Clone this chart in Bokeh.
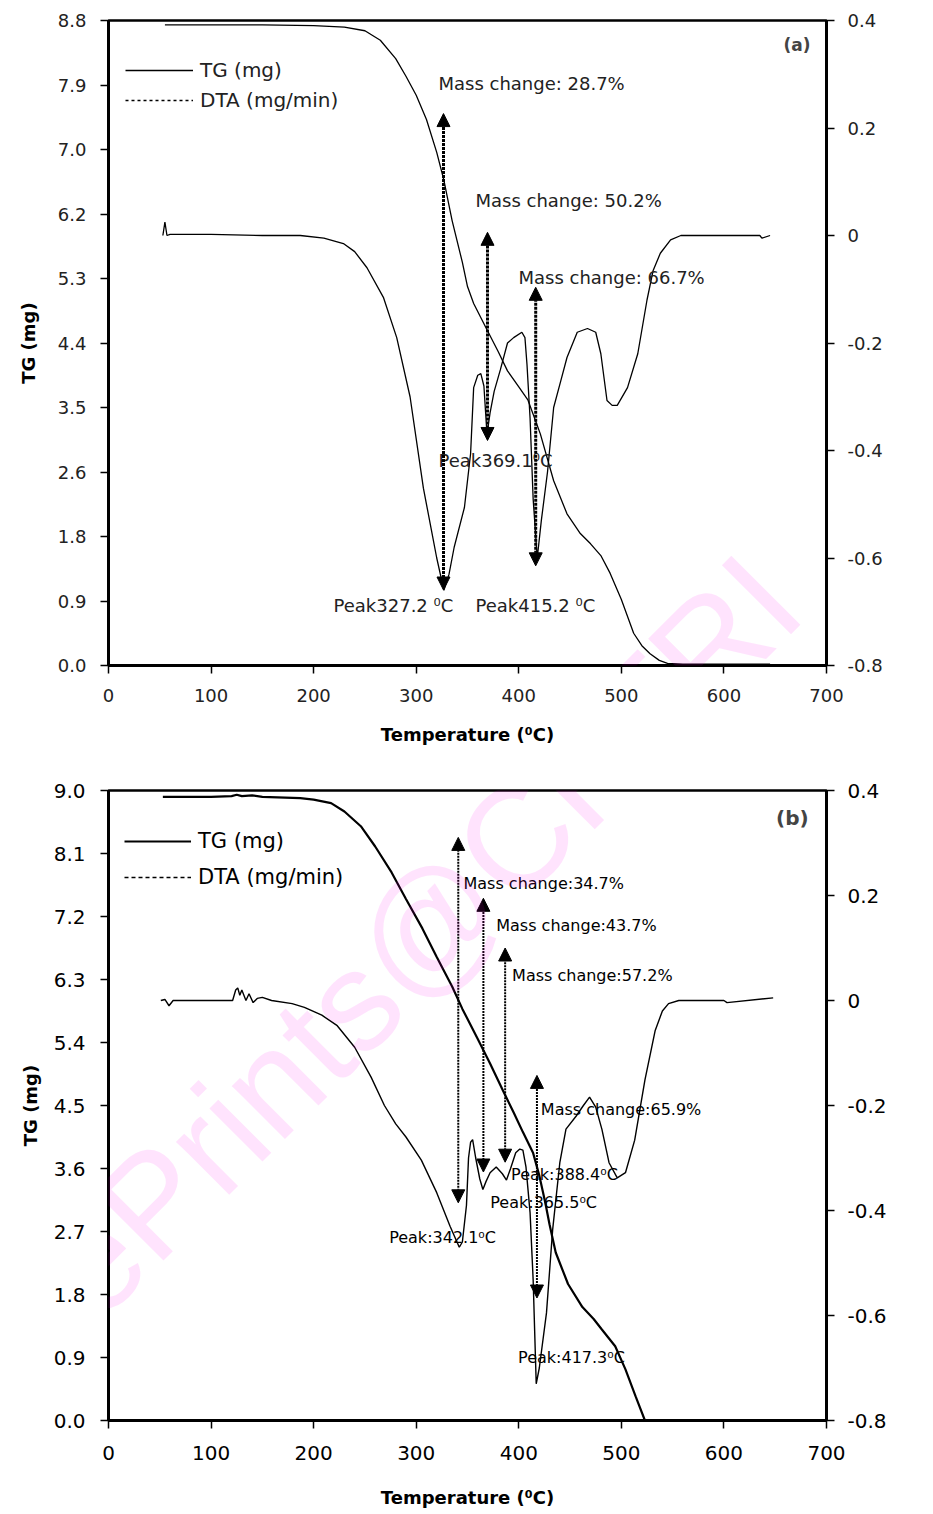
from bokeh.plotting import figure
from bokeh.models import (Range1d, LinearAxis, FixedTicker, ColumnDataSource, Arrow,
                          NormalHead, Label, Legend, LegendItem)
from bokeh.layouts import column
from bokeh.embed import file_html
from bokeh.resources import INLINE
from bokeh.core.properties import value

FONT = "DejaVu Sans"

# ---------------- shared axes ----------------
TEMP_TICKS = [0, 100, 200, 300, 400, 500, 600, 700]
DTG_TICKS = [-0.8, -0.6, -0.4, -0.2, 0.0, 0.2, 0.4]
DTG_TICK_LABELS = ["-0.8", "-0.6", "-0.4", "-0.2", "0", "0.2", "0.4"]

# ---------------- panel (a) ----------------
TG_TICKS_A = [0.0, 0.88, 1.76, 2.64, 3.52, 4.4, 5.28, 6.16, 7.04, 7.92, 8.8]
TG_TICK_LABELS_A = ["0.0", "0.9", "1.8", "2.6", "3.5", "4.4", "5.3", "6.2", "7.0", "7.9", "8.8"]

TG_A_T = [55, 100, 150, 200, 230, 250, 265, 280, 290, 300, 310, 320, 327, 335, 345,
          350, 356, 369, 380, 389, 400, 409, 421, 434, 447, 460, 470, 480, 489, 500,
          512, 520, 528, 537, 545, 560, 600, 645]
TG_A = [8.74, 8.74, 8.74, 8.73, 8.71, 8.66, 8.53, 8.28, 8.04, 7.78, 7.45, 7.0, 6.62, 6.07, 5.5,
        5.17, 4.94, 4.58, 4.28, 4.02, 3.80, 3.62, 3.16, 2.52, 2.07, 1.80, 1.66, 1.50, 1.26, 0.90,
        0.44, 0.27, 0.16, 0.07, 0.03, 0.02, 0.02, 0.02]

DTG_A_T = [53, 55, 57, 60, 100, 150, 187, 210, 229, 240, 252, 268, 281, 294, 307, 315, 320,
           327, 332, 337, 347, 353, 356, 360, 363, 366, 369, 372, 376, 382, 389, 395, 403,
           406, 408, 411, 414, 418, 422, 428, 434, 441, 447, 457, 467, 475, 480, 486, 491,
           496, 506, 516, 525, 531, 538, 548, 558, 600, 635, 637, 645]
DTG_A = [0.0, 0.025, 0.0, 0.002, 0.002, 0.0, 0.0, -0.005, -0.015, -0.03, -0.06, -0.115,
         -0.19, -0.30, -0.47, -0.55, -0.60, -0.66, -0.63, -0.58, -0.506, -0.406, -0.283,
         -0.26, -0.257, -0.28, -0.37, -0.33, -0.29, -0.25, -0.20, -0.19, -0.18, -0.19,
         -0.24, -0.34, -0.49, -0.60, -0.53, -0.44, -0.32, -0.27, -0.227, -0.18, -0.173,
         -0.18, -0.22, -0.307, -0.316, -0.316, -0.283, -0.22, -0.12, -0.065, -0.033,
         -0.008, 0.0, 0.0, 0.0, -0.005, 0.0]

ARROW_A_X = [326.6, 369.5, 416.5]
ARROW_A_BOTTOM = [1.03, 3.07, 1.36]
ARROW_A_TOP = [7.53, 5.91, 5.16]

TEXT_A = ["Mass change: 28.7%", "Mass change: 50.2%", "Mass change: 66.7%",
          "Peak327.2 \u2070C", "Peak415.2 \u2070C", "Peak369.1\u2070C"]
TEXT_A_X = [321.7, 357.8, 399.7, 219.4, 357.8, 321.7]
TEXT_A_Y = [7.94, 6.34, 5.29, 0.82, 0.82, 2.80]

# ---------------- panel (b) ----------------
TG_TICKS_B = [0.0, 0.9, 1.8, 2.7, 3.6, 4.5, 5.4, 6.3, 7.2, 8.1, 9.0]
TG_TICK_LABELS_B = ["0.0", "0.9", "1.8", "2.7", "3.6", "4.5", "5.4", "6.3", "7.2", "8.1", "9.0"]

TG_B_T = [53, 100, 120, 125, 130, 140, 150, 187, 200, 217, 230, 246, 260, 276, 290, 306,
          320, 335, 345, 360, 372, 385, 395, 404, 414, 420, 426, 430, 436, 448, 462, 473,
          481, 494, 504, 514, 523]
TG_B = [8.91, 8.91, 8.92, 8.94, 8.92, 8.93, 8.91, 8.89, 8.87, 8.82, 8.70, 8.49, 8.20, 7.83,
        7.45, 7.03, 6.62, 6.20, 5.88, 5.45, 5.10, 4.70, 4.40, 4.12, 3.82, 3.50, 3.10, 2.80,
        2.40, 1.95, 1.62, 1.45, 1.30, 1.06, 0.73, 0.34, 0.0]

DTG_B_T = [51, 55, 59, 63, 69, 100, 121, 124, 126, 128, 130, 134, 137, 141, 145, 150, 159,
           179, 191, 208, 223, 240, 256, 269, 280, 290, 305, 320, 333, 342, 345, 349, 351,
           353, 355, 358, 362, 365, 368, 372, 378, 384, 388, 392, 397, 401, 404, 407, 411,
           414, 417, 420, 427, 433, 440, 446, 456, 463, 469, 475, 481, 488, 496, 504, 513,
           523, 533, 540, 546, 556, 600, 603, 648]
DTG_B = [0.0, 0.002, -0.01, 0.0, 0.0, 0.0, 0.0, 0.02, 0.024, 0.01, 0.02, 0.0, 0.013, -0.004,
         0.004, 0.006, 0.0, -0.006, -0.013, -0.028, -0.048, -0.089, -0.146, -0.2, -0.235,
         -0.26, -0.304, -0.366, -0.43, -0.47, -0.46, -0.39, -0.30, -0.27, -0.265, -0.30,
         -0.34, -0.36, -0.345, -0.328, -0.317, -0.33, -0.342, -0.32, -0.29, -0.283, -0.285,
         -0.317, -0.404, -0.532, -0.73, -0.70, -0.595, -0.437, -0.309, -0.245, -0.22, -0.20,
         -0.184, -0.203, -0.245, -0.309, -0.338, -0.328, -0.266, -0.151, -0.057, -0.02,
         -0.006, 0.0, 0.0, -0.004, 0.005]

ARROW_B_X = [341.0, 365.5, 386.7, 417.7]
ARROW_B_BOTTOM = [3.11, 3.55, 3.69, 1.75]
ARROW_B_TOP = [8.33, 7.46, 6.75, 4.93]

TEXT_B = ["Mass change:34.7%", "Mass change:43.7%", "Mass change:57.2%", "Mass change:65.9%",
          "Peak:342.1\u2070C", "Peak:365.5\u2070C", "Peak:388.4\u2070C", "Peak:417.3\u2070C"]
TEXT_B_X = [346.1, 378.0, 393.5, 421.5, 273.6, 372.2, 392.5, 399.3]
TEXT_B_Y = [7.67, 7.07, 6.36, 4.44, 2.61, 3.11, 3.51, 0.90]

WATERMARK = "ePrints@CFTRI"
NAN = float("nan")


def make_panel(height, border_left, border_top, border_bottom, ymax, tg_ticks, tg_labels,
               tick_px, std_tick, std_label_y, std_tick_x, std_label_x, tick_color):
    p = figure(width=925, height=height, x_range=Range1d(0, 700), y_range=Range1d(0, ymax),
               output_backend="svg", toolbar_location=None,
               min_border_left=border_left, min_border_right=99,
               min_border_top=border_top, min_border_bottom=border_bottom,
               background_fill_color="white", border_fill_color="white")
    p.grid.visible = False
    p.outline_line_color = "black"
    p.outline_line_width = 2.5
    p.extra_y_ranges = {"dtg": Range1d(-0.8, 0.4)}
    right = LinearAxis(y_range_name="dtg")
    p.add_layout(right, "right")

    p.xaxis.ticker = FixedTicker(ticks=TEMP_TICKS)
    p.xaxis.axis_label = "Temperature (\u2070C)"
    p.xaxis.major_label_standoff = std_tick_x
    p.xaxis.axis_label_standoff = std_label_x

    left = p.left[0]
    left.ticker = FixedTicker(ticks=tg_ticks)
    left.major_label_overrides = {t: l for t, l in zip(tg_ticks, tg_labels)}
    left.axis_label = "TG (mg)"
    left.major_label_standoff = std_tick
    left.axis_label_standoff = std_label_y

    right.ticker = FixedTicker(ticks=DTG_TICKS)
    right.major_label_overrides = {t: l for t, l in zip(DTG_TICKS, DTG_TICK_LABELS)}
    right.major_label_standoff = 13

    for ax in [p.xaxis[0], left, right]:
        ax.axis_line_width = 3
        ax.axis_line_color = "black"
        ax.major_tick_in = 0
        ax.major_tick_out = 8
        ax.major_tick_line_width = 1.5
        ax.minor_tick_line_color = None
        ax.major_label_text_font = FONT
        ax.major_label_text_font_size = tick_px
        ax.major_label_text_color = tick_color
        ax.axis_label_text_font = FONT
        ax.axis_label_text_font_style = "bold"
        ax.axis_label_text_font_size = "18px"
        ax.axis_label_text_color = "black"
    return p


def watermark(sx, sy):
    # offsets in screen pixels from the bottom-left corner of the frame
    return Label(x=sx, y=sy, x_units="screen", y_units="screen", text=WATERMARK,
                 angle=45, angle_units="deg",
                 text_font="Liberation Sans", text_font_size="142px",
                 text_color="#ff00f0", text_alpha=0.11,
                 text_align="left", text_baseline="alphabetic", level="overlay")


# ====================== panel (a) ======================
pa = make_panel(778, 108, 20, 113, 8.8, TG_TICKS_A, TG_TICK_LABELS_A, "18px",
                14, 16, 15, 19, "#222222")

r_tg_a = pa.line(TG_A_T, TG_A, line_color="black", line_width=1.3)
pa.line(DTG_A_T, DTG_A, line_color="black", line_width=1.3, y_range_name="dtg")
r_dash_a = pa.line(x=[NAN], y=[NAN], line_color="black", line_width=1.3, line_dash="3 3")

src_arrow_a = ColumnDataSource(dict(x=ARROW_A_X, y0=ARROW_A_BOTTOM, y1=ARROW_A_TOP))
pa.add_layout(Arrow(x_start="x", y_start="y0", x_end="x", y_end="y1", source=src_arrow_a,
                    start=NormalHead(size=13, fill_color="black", line_color="black"),
                    end=NormalHead(size=13, fill_color="black", line_color="black"),
                    line_width=3, line_dash="3 1", line_color="black"))

pa.text(x=TEXT_A_X, y=TEXT_A_Y, text=TEXT_A, text_font=value(FONT),
        text_font_size=value("18px"), text_color="#222222",
        text_align="left", text_baseline="middle")
pa.add_layout(Label(x=684.4, y=8.46, text="(a)", text_font=FONT, text_font_style="bold",
                    text_font_size="17px", text_align="right", text_baseline="middle"))
pa.add_layout(Label(x=777, y=4.9, text="DTG (mg/min)", angle=90, angle_units="deg",
                    text_font=FONT, text_font_style="bold", text_font_size="18px",
                    text_align="center", text_baseline="middle"))

leg_a = Legend(items=[LegendItem(label="TG (mg)", renderers=[r_tg_a]),
                      LegendItem(label="DTA (mg/min)", renderers=[r_dash_a])],
               location=(17, 550), glyph_width=68, glyph_height=30, label_height=30,
               label_standoff=7, spacing=0, padding=0, margin=0,
               border_line_alpha=0, background_fill_alpha=0,
               label_text_font=FONT, label_text_font_size="20px",
               label_text_color="#222222")
pa.add_layout(leg_a)
pa.add_layout(watermark(-44, -625))

# ====================== panel (b) ======================
pb = make_panel(736, 102, 12, 94, 9.0, TG_TICKS_B, TG_TICK_LABELS_B, "20px",
                15, 10, 17, 24, "black")

r_tg_b = pb.line(TG_B_T, TG_B, line_color="black", line_width=2.2)
pb.line(DTG_B_T, DTG_B, line_color="black", line_width=1.4, y_range_name="dtg")
r_dash_b = pb.line(x=[NAN], y=[NAN], line_color="black", line_width=1.4, line_dash="4 3")

src_arrow_b = ColumnDataSource(dict(x=ARROW_B_X, y0=ARROW_B_BOTTOM, y1=ARROW_B_TOP))
pb.add_layout(Arrow(x_start="x", y_start="y0", x_end="x", y_end="y1", source=src_arrow_b,
                    start=NormalHead(size=13, fill_color="black", line_color="black"),
                    end=NormalHead(size=13, fill_color="black", line_color="black"),
                    line_width=2, line_dash="2 1", line_color="black"))

pb.text(x=TEXT_B_X, y=TEXT_B_Y, text=TEXT_B, text_font=value(FONT),
        text_font_size=value("16px"), text_color="black",
        text_align="left", text_baseline="middle")
pb.add_layout(Label(x=682.6, y=8.61, text="(b)", text_font=FONT, text_font_style="bold",
                    text_font_size="20px", text_align="right", text_baseline="middle"))
pb.add_layout(Label(x=776.4, y=5.0, text="DTG (mg/min)", angle=90, angle_units="deg",
                    text_font=FONT, text_font_style="bold", text_font_size="18px",
                    text_align="center", text_baseline="middle"))

leg_b = Legend(items=[LegendItem(label="TG (mg)", renderers=[r_tg_b]),
                      LegendItem(label="DTA (mg/min)", renderers=[r_dash_b])],
               location=(16, 525), glyph_width=67, glyph_height=36, label_height=36,
               label_standoff=7, spacing=0, padding=0, margin=0,
               border_line_alpha=0, background_fill_alpha=0,
               label_text_font=FONT, label_text_font_size="21px",
               label_text_color="black")
pb.add_layout(leg_b)
pb.add_layout(watermark(-44, 131))

layout = column(pa, pb)
open("out.html", "w").write(file_html(layout, INLINE))
